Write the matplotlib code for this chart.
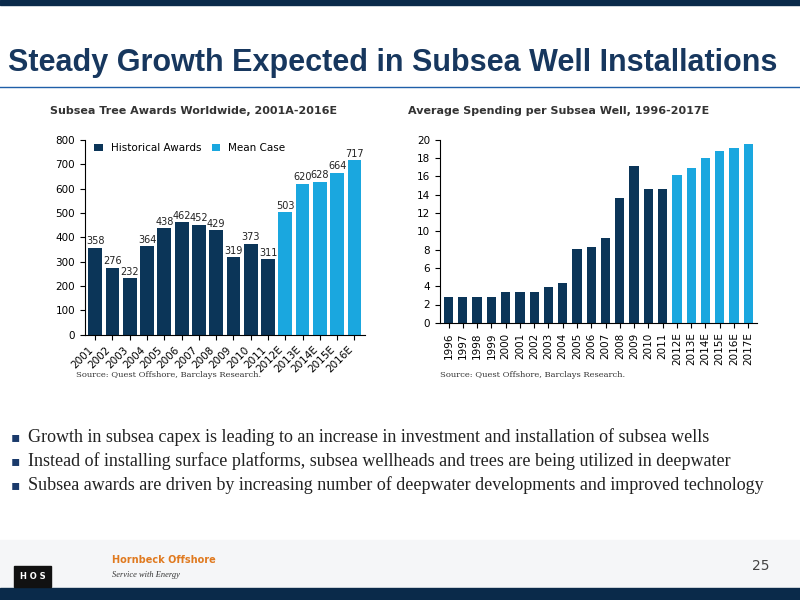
import matplotlib
matplotlib.use("Agg")
import matplotlib.pyplot as plt
from matplotlib.patches import Rectangle

years1 = ["2001","2002","2003","2004","2005","2006","2007","2008","2009","2010","2011","2012E","2013E","2014E","2015E","2016E"]
awards = [358,276,232,364,438,462,452,429,319,373,311,503,620,628,664,717]
years2 = ["1996","1997","1998","1999","2000","2001","2002","2003","2004","2005","2006","2007","2008","2009","2010","2011","2012E","2013E","2014E","2015E","2016E","2017E"]
spend = [2.8,2.8,2.8,2.8,3.4,3.4,3.4,3.9,4.3,8.1,8.3,9.3,13.6,17.1,14.6,14.6,16.1,16.9,18.0,18.8,19.1,19.5]
bullets = ["Growth in subsea capex is leading to an increase in investment and installation of subsea wells",
           "Instead of installing surface platforms, subsea wellheads and trees are being utilized in deepwater",
           "Subsea awards are driven by increasing number of deepwater developments and improved technology"]

DARK = "#0b3558"; LIGHT = "#1aa7df"; NAVY = "#0a2a4a"
fig = plt.figure(figsize=(8, 6), dpi=100)
fig.patches.append(Rectangle((0, 0.992), 1, 0.008, transform=fig.transFigure, color=NAVY))
fig.patches.append(Rectangle((0, 0.0), 1, 0.1, transform=fig.transFigure, color="#f5f6f8", zorder=-1))
fig.patches.append(Rectangle((0, 0.0), 1, 0.02, transform=fig.transFigure, color=NAVY))
fig.lines.append(plt.Line2D([0, 1], [0.855, 0.855], transform=fig.transFigure, color="#1f5fa8", lw=1))
fig.text(0.01, 0.895, "Steady Growth Expected in Subsea Well Installations", fontsize=22,
         fontweight="bold", family="Liberation Sans", color="#17375e", va="center")

# left chart
ax1 = fig.add_axes([0.106, 0.442, 0.35, 0.325])
c1 = [DARK if not y.endswith("E") else LIGHT for y in years1]
ax1.bar(range(len(years1)), awards, color=c1, width=0.8)
for i, v in enumerate(awards):
    ax1.text(i, v + 6, str(v), ha="center", va="bottom", fontsize=7, color="#222")
ax1.set_ylim(0, 800); ax1.set_yticks(range(0, 801, 100))
ax1.set_xlim(-0.6, len(years1) - 0.4)
ax1.set_xticks(range(len(years1))); ax1.set_xticklabels(years1, rotation=45, ha="right", fontsize=7.5)
ax1.tick_params(axis="y", labelsize=7.5)
for s in ["top", "right"]: ax1.spines[s].set_visible(False)
ax1.bar([0], [0], color=DARK, label="Historical Awards"); ax1.bar([0], [0], color=LIGHT, label="Mean Case")
ax1.legend(loc="upper left", fontsize=7.5, frameon=False, ncol=2, handlelength=0.8, columnspacing=1.0,
           bbox_to_anchor=(0.0, 1.03))
fig.text(0.063, 0.81, "Subsea Tree Awards Worldwide, 2001A-2016E", fontsize=8, fontweight="bold", color="#333")
fig.text(0.095, 0.372, "Source: Quest Offshore, Barclays Research.", fontsize=6, family="DejaVu Serif", color="#333")

# right chart
ax2 = fig.add_axes([0.55, 0.462, 0.396, 0.305])
c2 = [DARK if not y.endswith("E") else LIGHT for y in years2]
ax2.bar(range(len(years2)), spend, color=c2, width=0.65)
ax2.set_ylim(0, 20); ax2.set_yticks(range(0, 21, 2))
ax2.set_xlim(-0.6, len(years2) - 0.4)
ax2.set_xticks(range(len(years2))); ax2.set_xticklabels(years2, rotation=90, fontsize=7.5)
ax2.tick_params(axis="y", labelsize=7.5)
for s in ["top", "right"]: ax2.spines[s].set_visible(False)
fig.text(0.51, 0.81, "Average Spending per Subsea Well, 1996-2017E", fontsize=8, fontweight="bold", color="#333")
fig.text(0.55, 0.372, "Source: Quest Offshore, Barclays Research.", fontsize=6, family="DejaVu Serif", color="#333")

for i, t in enumerate(bullets):
    y = 0.272 - i * 0.04
    fig.text(0.013, y, "\u25aa", fontsize=10, color="#1a3a6b", va="center")
    fig.text(0.035, y, t, fontsize=13, family="Liberation Serif", color="#222", va="center")

fig.text(0.14, 0.062, "Hornbeck Offshore", fontsize=7, fontweight="bold", color="#e07a20")
fig.text(0.14, 0.038, "Service with Energy", fontsize=6, style="italic", family="Liberation Serif", color="#333")
fig.text(0.025, 0.035, "H O S", fontsize=6, fontweight="bold", color="white", backgroundcolor="#111")
fig.text(0.94, 0.05, "25", fontsize=10, color="#444")
fig.savefig("out.png", dpi=100)
